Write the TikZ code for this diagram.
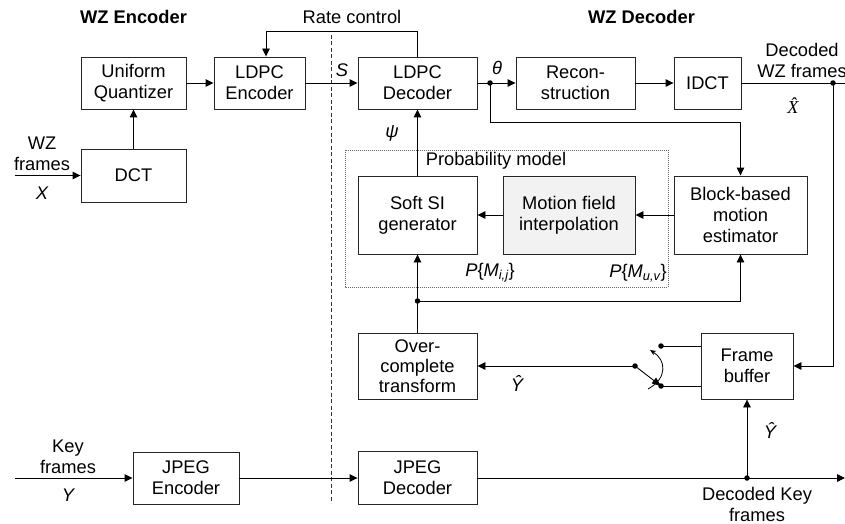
\documentclass[tikz,border=0pt]{standalone}
\usepackage{fontspec}
\setmainfont{Liberation Sans}
\newfontfamily\tnr{Liberation Serif}
\usetikzlibrary{arrows.meta}
\begin{document}
\begin{tikzpicture}[x=1pt,y=-1pt,
  font=\fontsize{18.3}{21}\selectfont,
  line width=0.9pt,
  box/.style={draw=black!85, align=center, inner sep=0pt},
  arr/.style={-{Triangle[length=8pt,width=7.5pt]}},
  lbl/.style={inner sep=0pt, align=center},
  dot/.style={circle, fill=black, inner sep=0pt, minimum size=5.5pt}]
\useasboundingbox (0,0) rectangle (845,524);
% boxes
\node[box, minimum width=105, minimum height=52] (uq) at (133.5,83) {Uniform\\Quantizer};
\node[box, minimum width=91, minimum height=52] (lenc) at (259.5,83) {LDPC\\Encoder};
\node[box, minimum width=105, minimum height=53] (dct) at (133.5,175.5) {DCT};
\node[box, minimum width=119, minimum height=52] (ldec) at (417.5,83) {LDPC\\Decoder};
\node[box, minimum width=119, minimum height=52] (rec) at (575.5,83) {Recon-\\struction};
\node[box, minimum width=67, minimum height=52] (idct) at (707.5,83) {IDCT};
\node[box, minimum width=119, minimum height=78] (soft) at (417.5,215) {Soft SI\\generator};
\node[box, minimum width=132, minimum height=78, fill=black!5] (mfi) at (569,215) {Motion field\\interpolation};
\node[box, minimum width=133, minimum height=78] (bbme) at (740.5,215) {Block-based\\motion\\estimator};
\node[box, minimum width=119, minimum height=66, font=\fontsize{18.3}{20}\selectfont] (oct) at (417.5,366) {Over-\\complete\\transform};
\node[box, minimum width=92, minimum height=66] (fb) at (747,366) {Frame\\buffer};
\node[box, minimum width=106, minimum height=52] (jenc) at (186,478) {JPEG\\Encoder};
\node[box, minimum width=119, minimum height=53] (jdec) at (417.5,478) {JPEG\\Decoder};
% dashed divider and probability model frame
\draw[black!80, dash pattern=on 4pt off 2.5pt, line width=0.8pt] (331,35) -- (331,503);
\draw[black!60, dash pattern=on 1pt off 1pt, line width=0.8pt] (345,150) rectangle (668,287);
% titles and labels
\node[lbl, font=\fontsize{18.3}{21}\selectfont\bfseries] (t1) at (133.5,17) {WZ Encoder};
\node[lbl, font=\fontsize{18.3}{21}\selectfont\bfseries] (t2) at (641.5,17) {WZ Decoder};
\node[lbl] (rct) at (352,17) {Rate control};
\node[lbl] (pm) at (496,161) {Probability model};
\node[lbl] (lS) at (342,70) {\itshape S};
\node[lbl] (lth) at (497,68) {\itshape θ};
\node[lbl] (lpsi) at (392,133) {\itshape ψ};
\node[lbl] (lpij) at (490,273) {{\itshape P}\{{\itshape M}\textsubscript{\itshape i,j}\}};
\node[lbl] (lpuv) at (638,273) {{\itshape P}\{{\itshape M}\textsubscript{\itshape u,v}\}};
\node[lbl] (lwz) at (42,154) {WZ\\frames};
\node[lbl] (lX) at (42,193) {\itshape X};
\node[lbl] (lkey) at (68,457) {Key\\frames};
\node[lbl] (lY) at (68,495) {\itshape Y};
\node[lbl] (ldwz) at (802,60) {Decoded\\WZ frames};
\node[lbl] (lXh) at (793,106) {\tnr\itshape\^{X}};
\node[lbl] (lYh1) at (517,383) {\itshape\^{Y}};
\node[lbl] (lYh2) at (770,430) {\itshape\^{Y}};
\node[lbl] (ldk) at (757,504) {Decoded Key\\frames};
% coordinates
\coordinate (wzin) at (15,175.5);
\coordinate (keyin) at (15,478);
\coordinate (rc) at (266,31);
\coordinate (th) at (490,83);
\coordinate (thb) at (490,122);
\coordinate (dwz) at (833,83);
\coordinate (dwzend) at (845,83);
\coordinate (pj) at (417.5,301);
\coordinate (sp) at (635,366);
\coordinate (su) at (661,346);
\coordinate (sl) at (661,386);
\coordinate (kj) at (747,478);
\coordinate (kend) at (845,478);
\coordinate (a1) at (648,389);
\coordinate (a2) at (650,350);
% encoder connectors
\draw[arr] (wzin) -- (dct.west);
\draw[arr] (dct.north) -- (uq.south);
\draw[arr] (uq.east) -- (lenc.west);
\draw[arr] (ldec.north) |- (rc) -- (rc |- lenc.north);
\draw[arr] (lenc.east) -- (ldec.west);
\draw[arr] (keyin) -- (jenc.west);
\draw[arr] (jenc.east) -- (jdec.west);
% decoder connectors
\draw[arr] (ldec.east) -- (rec.west);
\draw[arr] (th) -- (thb) -| (bbme.north);
\draw[arr] (rec.east) -- (idct.west);
\draw (idct.east) -- (dwzend);
\draw[arr] (dwz) |- (fb.east);
\draw[arr] (bbme.west) -- (mfi.east);
\draw[arr] (mfi.west) -- (soft.east);
\draw[arr] (soft.north) -- (ldec.south);
\draw[arr] (oct.north) -- (soft.south);
\draw[arr] (pj) -| (bbme.south);
\draw[arr] (jdec.east) -- (kend);
\draw[arr] (kj) -- (fb.south);
% switch
\draw[arr] (sp) -- (oct.east);
\draw (su) -- (su -| fb.west);
\draw (sl) -- (sl -| fb.west);
\draw[-{Triangle[length=9pt,width=7pt]}] (sp) -- (sl);
\draw[-{Stealth[length=6pt,width=5pt]}, line width=0.8pt] (a1) .. controls (668,378) and (666,360) .. (a2);
% dots
\node[dot] (d1) at (th) {};
\node[dot] (d2) at (dwz) {};
\node[dot] (d3) at (pj) {};
\node[dot] (d4) at (sp) {};
\node[dot] (d5) at (su) {};
\node[dot] (d6) at (sl) {};
\node[dot] (d7) at (kj) {};
\end{tikzpicture}
\end{document}
